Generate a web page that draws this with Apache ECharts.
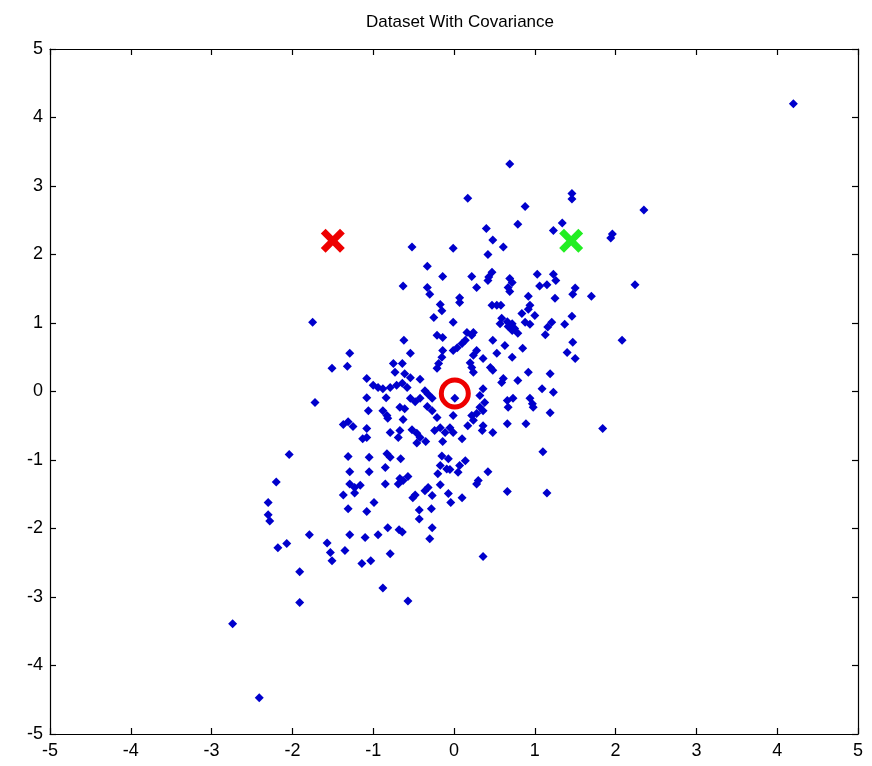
<!DOCTYPE html>
<html>
<head>
<meta charset="utf-8">
<script src="https://cdn.jsdelivr.net/npm/echarts@6/dist/echarts.min.js"></script>
<style>
  html, body { margin: 0; padding: 0; background: #fff; }
  #main { width: 872px; height: 766px; }
</style>
</head>
<body>
<div id="main"></div>
<script>
// sample points
const xs = [
  4.20, 0.69, 0.17, 1.46, 1.46, 2.35, 0.88, 0.79, 1.34, 0.40, 1.23, 1.96, 1.94, 0.48, 0.61, -0.01, -0.52, 0.42, -0.33, -0.14,
  0.22, 0.47, 0.43, 0.42, 0.28, 0.69, 0.72, 0.67, 0.69, 1.03, 1.23, 1.26, 1.06, 1.15, 1.50, 1.47, 1.70, 0.92, 1.25, 0.07,
  0.07, 0.47, 0.53, 0.58, 0.94, 0.92, -0.63, -0.33, -0.30, -0.17, 2.24, 2.08, -1.75, -1.29, -1.51, -1.32, -1.72, -0.62, -0.54, -0.15,
  -0.25, -0.21, -0.14, -0.14, -0.15, -0.19, -0.21, -0.75, -0.64, -0.73, -0.61, -0.54, -0.42, -1.08, -1.00, -0.94, -0.88, -0.79, -0.71, -0.64,
  -0.58, -0.36, -0.32, -0.27, -1.08, -0.84, -0.54, -0.48, -0.42, -0.67, -0.61, -1.06, -0.88, -0.83, -0.82, -0.33, -0.27, -0.21, -1.37, -1.31,
  -1.25, -0.63, -1.08, -0.79, -0.67, -0.69, -0.52, -0.46, -0.42, -0.24, -0.17, -0.11, -1.13, -1.08, 0.84, 1.00, 1.46, -0.01, 0.59, 0.66,
  0.72, 0.57, 0.67, 0.72, 0.75, 0.88, 0.94, 1.21, 1.16, 1.13, 1.37, 0.79, 0.16, 0.24, 0.22, 0.14, 0.10, 0.04, -0.01, 0.48,
  0.63, 0.85, 1.47, 1.40, 1.50, 0.28, 0.24, 0.20, 0.22, 0.24, 0.36, 0.53, 0.72, 0.45, 0.48, 0.61, 0.59, 0.79, 0.92, 1.19,
  1.09, 1.23, 0.36, 0.32, 0.38, 0.32, 0.28, 0.36, 0.22, 0.24, 0.17, 0.36, 0.35, 0.66, 0.67, 0.73, 0.94, 0.97, 0.98, 1.19,
  -0.01, 0.66, 0.89, 0.48, 1.84, -0.05, -0.01, 0.10, 0.01, 1.10, 1.15, -2.04, -1.31, -1.05, -0.83, -2.20, -1.29, -1.05, -0.85, -1.29,
  -1.23, -1.16, -1.23, -1.37, -0.85, -2.30, -1.31, -1.08, -0.99, -2.30, -2.28, -1.79, -1.29, -1.10, -0.94, -0.82, -2.18, -2.07, -1.57, -1.53,
  -1.51, -1.35, -1.14, -1.03, -0.79, -1.91, -0.88, -1.91, -0.79, -0.66, -0.46, -0.35, -0.14, -0.15, -0.07, -0.17, -0.20, -0.09, -0.05, 0.07,
  0.14, 0.05, -0.69, -0.67, -0.63, -0.57, 0.42, 0.28, 0.30, -0.17, -0.32, -0.36, -0.51, -0.48, -0.27, -0.07, -0.04, 0.10, 0.66, -0.43,
  -0.43, -0.28, -0.68, -0.64, -0.27, -0.30, 0.36, -0.57, -2.74, -2.41
];
const ys = [
  4.20, 3.32, 2.82, 2.89, 2.81, 2.65, 2.70, 2.44, 2.46, 2.38, 2.35, 2.30, 2.24, 2.21, 2.11, 2.09, 2.11, 2.00, 1.83, 1.68,
  1.68, 1.74, 1.67, 1.62, 1.52, 1.65, 1.59, 1.52, 1.46, 1.71, 1.71, 1.62, 1.54, 1.56, 1.51, 1.42, 1.39, 1.39, 1.36, 1.37,
  1.30, 1.26, 1.26, 1.26, 1.26, 1.20, 1.54, 1.52, 1.42, 1.27, 1.56, 0.75, 1.01, 0.56, 0.34, 0.37, -0.16, 0.75, 0.56, 1.18,
  1.08, 0.82, 0.79, 0.60, 0.50, 0.41, 0.34, 0.41, 0.41, 0.28, 0.26, 0.20, 0.18, 0.19, 0.09, 0.06, 0.04, 0.06, 0.09, 0.12,
  0.06, 0.01, -0.04, -0.10, -0.09, -0.09, -0.10, -0.15, -0.10, -0.23, -0.25, -0.28, -0.28, -0.35, -0.39, -0.22, -0.28, -0.38, -0.48, -0.44,
  -0.51, -0.41, -0.54, -0.60, -0.57, -0.67, -0.56, -0.61, -0.67, -0.57, -0.53, -0.60, -0.69, -0.67, 1.14, 1.11, 1.10, 1.01, 1.07, 1.02,
  0.99, 0.99, 0.95, 0.89, 0.92, 1.01, 0.98, 1.01, 0.94, 0.83, 0.98, 0.85, 0.86, 0.86, 0.82, 0.75, 0.70, 0.64, 0.60, 0.75,
  0.67, 0.63, 0.72, 0.57, 0.48, 0.60, 0.53, 0.42, 0.35, 0.28, 0.48, 0.56, 0.50, 0.35, 0.31, 0.19, 0.13, 0.16, 0.28, 0.26,
  0.04, -0.01, 0.04, -0.06, -0.16, -0.23, -0.32, -0.28, -0.35, -0.42, -0.50, -0.50, -0.57, -0.13, -0.23, -0.10, -0.10, -0.18, -0.23, -0.31,
  -0.35, -0.47, -0.47, -0.60, -0.54, -0.53, -0.60, -0.69, -0.10, -0.88, -1.48, -0.92, -0.95, -0.96, -0.91, -1.32, -1.17, -1.17, -1.11, -1.35,
  -1.40, -1.37, -1.48, -1.51, -1.35, -1.62, -1.71, -1.75, -1.62, -1.80, -1.89, -2.09, -2.09, -2.13, -2.09, -1.99, -2.28, -2.22, -2.21, -2.35,
  -2.47, -2.32, -2.51, -2.47, -2.37, -2.63, -2.87, -3.08, -0.96, -0.98, -0.75, -0.73, -0.73, -0.94, -0.98, -1.08, -1.20, -1.13, -1.14, -1.08,
  -1.01, -1.18, -1.35, -1.27, -1.30, -1.24, -1.17, -1.35, -1.30, -1.36, -1.40, -1.45, -1.55, -1.51, -1.52, -1.49, -1.62, -1.55, -1.46, -1.73,
  -1.86, -1.71, -2.02, -2.05, -1.99, -2.15, -2.41, -3.06, -3.39, -4.47
];

// special markers
const meanPoint = [0.01, -0.03];
const redCross = [-1.50, 2.20];
const greenCross = [1.45, 2.20];

const ticks = [-5, -4, -3, -2, -1, 0, 1, 2, 3, 4, 5];

const points = xs.map((x, i) => [x, ys[i]]);
const crossPath = 'path://M2,0 L5,3 L8,0 L10,2 L7,5 L10,8 L8,10 L5,7 L2,10 L0,8 L3,5 L0,2 Z';

const labelFont = { fontFamily: 'Liberation Sans', fontSize: 18, color: '#000' };

const axisBase = {
  type: 'value',
  min: ticks[0],
  max: ticks[ticks.length - 1],
  interval: 1,
  axisLine: { show: true, onZero: false, lineStyle: { color: '#000', width: 1.2 } },
  axisTick: { show: true, inside: true, length: 6, lineStyle: { color: '#000', width: 1.2 } },
  splitLine: { show: false }
};

var chart = echarts.init(document.getElementById('main'), null, { renderer: 'canvas' });
chart.setOption({
  animation: false,
  backgroundColor: '#fff',
  title: {
    text: 'Dataset With Covariance',
    left: 455,
    textAlign: 'center',
    top: 9,
    textStyle: { fontFamily: 'Liberation Sans', fontSize: 17, fontWeight: 'normal', color: '#000' }
  },
  grid: { left: 50, right: 14, top: 49, bottom: 32 },
  xAxis: [
    Object.assign({}, axisBase, {
      position: 'bottom',
      axisLabel: Object.assign({ margin: 8 }, labelFont)
    }),
    Object.assign({}, axisBase, { position: 'top', axisLabel: { show: false } })
  ],
  yAxis: [
    Object.assign({}, axisBase, {
      position: 'left',
      axisLabel: Object.assign({ margin: 7 }, labelFont)
    }),
    Object.assign({}, axisBase, { position: 'right', axisLabel: { show: false } })
  ],
  series: [
    {
      name: 'data',
      type: 'scatter',
      data: points,
      symbol: 'diamond',
      symbolSize: 9,
      itemStyle: { color: '#0000cc', opacity: 1 }
    },
    {
      name: 'mean',
      type: 'scatter',
      data: [meanPoint],
      symbol: 'circle',
      symbolSize: 27,
      z: 5,
      itemStyle: { color: 'rgba(0,0,0,0)', borderColor: '#ee0000', borderWidth: 5, opacity: 1 }
    },
    {
      name: 'red',
      type: 'scatter',
      data: [redCross],
      symbol: crossPath,
      symbolSize: 24,
      z: 5,
      itemStyle: { color: '#ee0000', opacity: 1 }
    },
    {
      name: 'green',
      type: 'scatter',
      data: [greenCross],
      symbol: crossPath,
      symbolSize: 24,
      z: 5,
      itemStyle: { color: '#22ee22', opacity: 1 }
    }
  ]
});
</script>
</body>
</html>
